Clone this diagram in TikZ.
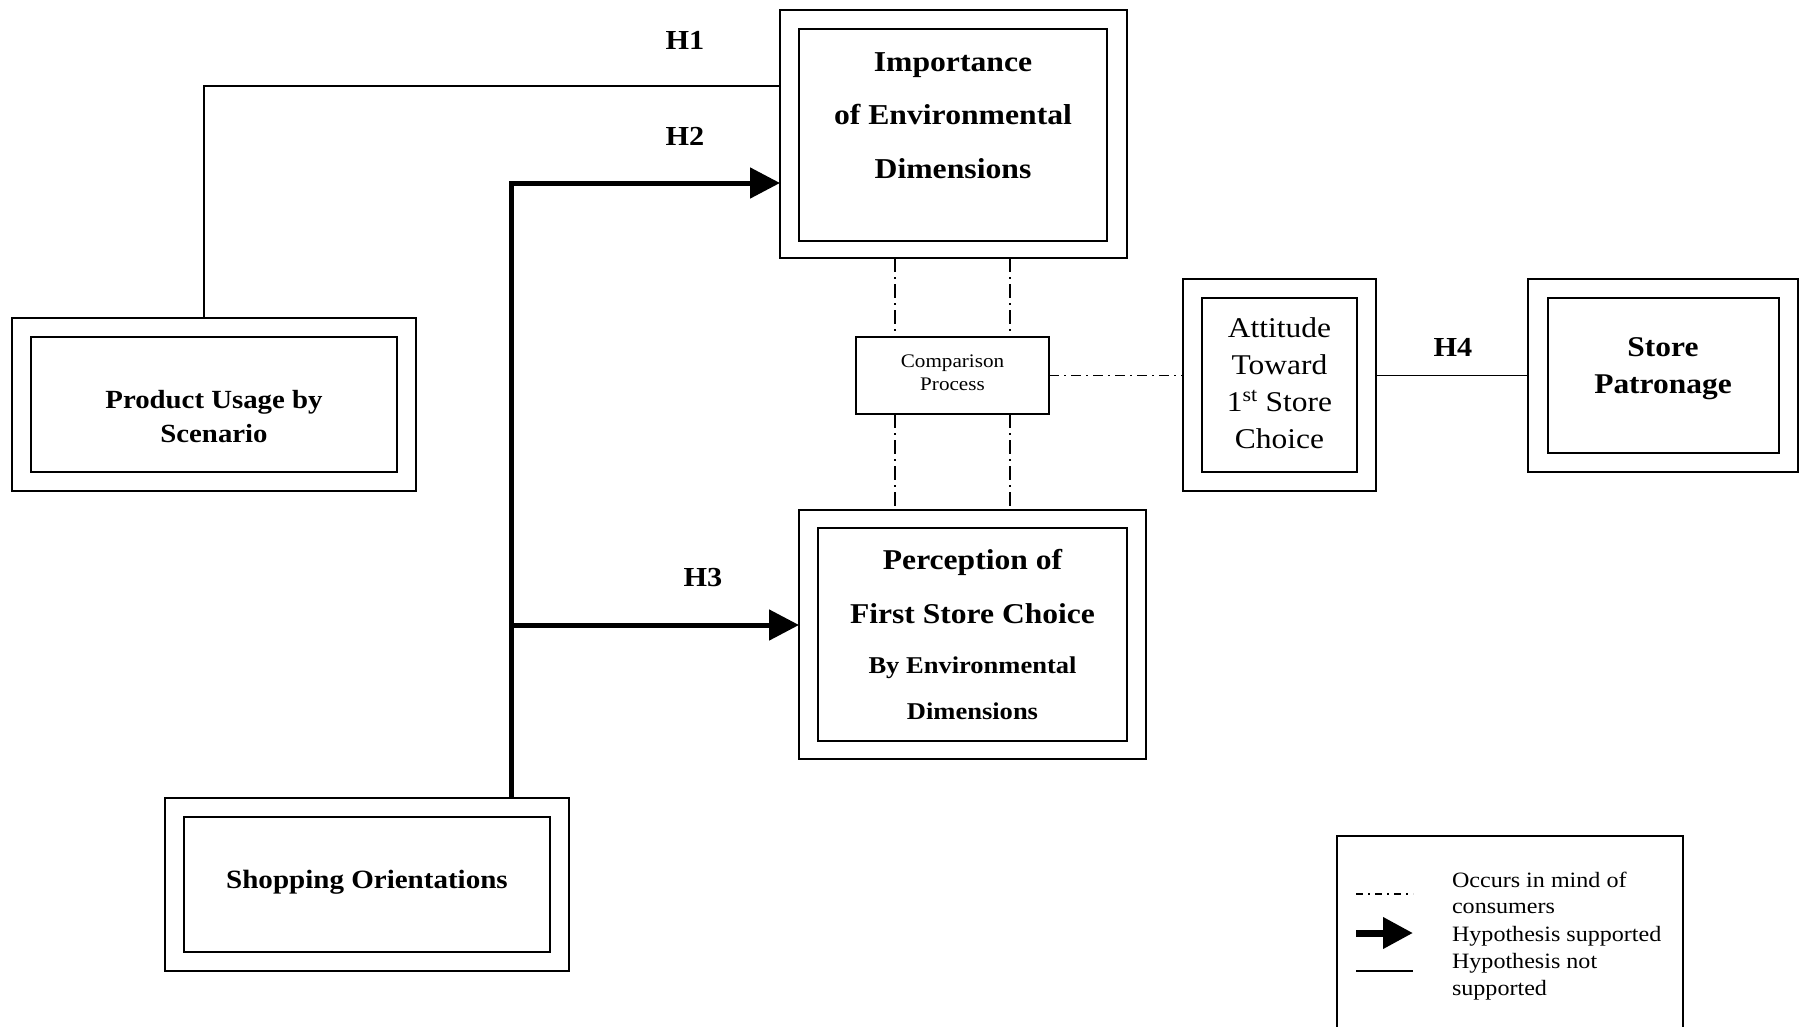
\documentclass[tikz,border=0pt]{standalone}
\usepackage{fontspec}
\setmainfont{Liberation Serif}[FakeStretch=1.1]
\usetikzlibrary{arrows.meta}
\newcommand\fsz[1]{\fontsize{#1pt}{#1pt}\selectfont}
\begin{document}
\begin{tikzpicture}[x=1pt,y=-1pt,
  bx/.style={draw, line width=1.6pt, inner sep=0pt, outer sep=0pt},
  txt/.style={anchor=base, inner sep=0pt, outer sep=0pt},
  ltxt/.style={anchor=base west, inner sep=0pt, outer sep=0pt, font=\fsz{21.9}},
  nsline/.style={line width=1.6pt},
  supp/.style={line width=5pt, -{Triangle[length=30pt,width=30pt]}},
  dd/.style={line width=1.4pt, dash pattern=on 14pt off 5pt on 2pt off 5pt},
  bigb/.style={font=\fsz{28.8}\bfseries},
  hlab/.style={txt, font=\fsz{27.5}\bfseries}]
\useasboundingbox (0,0) rectangle (1801,1026);
\fill[white] (0,0) rectangle (1801,1026);

% boxes
\node[bx, minimum width=347pt, minimum height=248pt] (imp) at (953.5,134) {};
\node[bx, minimum width=308pt, minimum height=212pt] (impi) at (953,135) {};
\node[bx, minimum width=347pt, minimum height=249pt] (perc) at (972.5,634.5) {};
\node[bx, minimum width=309pt, minimum height=213pt] (perci) at (972.5,634.5) {};
\node[bx, minimum width=404pt, minimum height=173pt] (prod) at (214,404.5) {};
\node[bx, minimum width=366pt, minimum height=135pt] (prodi) at (214,404.5) {};
\node[bx, minimum width=404pt, minimum height=173pt] (shop) at (367,884.5) {};
\node[bx, minimum width=366pt, minimum height=135pt] (shopi) at (367,884.5) {};
\node[bx, minimum width=193pt, minimum height=212pt] (att) at (1279.5,385) {};
\node[bx, minimum width=155pt, minimum height=174pt] (atti) at (1279.5,385) {};
\node[bx, minimum width=270pt, minimum height=193pt] (store) at (1663,375.5) {};
\node[bx, minimum width=231pt, minimum height=155pt] (storei) at (1663.5,375.5) {};
\node[bx, minimum width=193pt, minimum height=77pt] (comp) at (952.5,375.5) {};

% texts
\node[txt, bigb] (t1) at (953,71) {Importance};
\node[txt, bigb] (t2) at (953,124) {of Environmental};
\node[txt, bigb] (t3) at (953,178) {Dimensions};
\node[txt, font=\fsz{28.7}\bfseries] (p1) at (972.5,569) {Perception of};
\node[txt, font=\fsz{28.7}\bfseries] (p2) at (972.5,623) {First Store Choice};
\node[txt, font=\fsz{24.1}\bfseries] (p3) at (972.5,673) {By Environmental};
\node[txt, font=\fsz{24.1}\bfseries] (p4) at (972.5,719) {Dimensions};
\node[txt, font=\fsz{26.2}\bfseries] (u1) at (214,408) {Product Usage by};
\node[txt, font=\fsz{26.2}\bfseries] (u2) at (214,442) {Scenario};
\node[txt, font=\fsz{26.4}\bfseries] (s1) at (367,888) {Shopping Orientations};
\node[txt, font=\fsz{28.6}\bfseries] (r1) at (1663,356) {Store};
\node[txt, font=\fsz{28.6}\bfseries] (r2) at (1663,393) {Patronage};
\node[txt, font=\fsz{28.6}] (a1) at (1279.5,337) {Attitude};
\node[txt, font=\fsz{28.6}] (a2) at (1279.5,374) {Toward};
\node[txt, font=\fsz{28.6}] (a3) at (1279.5,411) {1\textsuperscript{st} Store};
\node[txt, font=\fsz{28.6}] (a4) at (1279.5,448) {Choice};
\node[txt, font=\fsz{19.2}] (c1) at (952.5,367) {Comparison};
\node[txt, font=\fsz{19.2}] (c2) at (952.5,390) {Process};

% hypothesis labels
\node[hlab] (h1) at (685,49) {H1};
\node[hlab] (h2) at (685,145) {H2};
\node[hlab] (h3) at (703,586) {H3};
\node[hlab] (h4) at (1453,356) {H4};

% connectors
\coordinate (h1c) at (204,86);
\coordinate (h2c) at (511,183);
\coordinate (h3c) at (511,625);
\coordinate (v1) at (895,0);
\coordinate (v2) at (1010,0);
\draw[nsline] (h1c |- prod.north) -- (h1c) -- (h1c -| imp.west);
\draw[supp] (h2c |- shop.north) -- (h2c) -- (h2c -| imp.west);
\draw[supp] (h3c) -- (h3c -| perc.west);
\draw[nsline] (att.east |- store.west) -- (store.west);
\draw[dd] (v1 |- imp.south) -- (v1 |- comp.north);
\draw[dd] (v2 |- imp.south) -- (v2 |- comp.north);
\draw[dd] (v1 |- comp.south) -- (v1 |- perc.north);
\draw[dd] (v2 |- comp.south) -- (v2 |- perc.north);
\draw[dd, dash pattern=on 10pt off 5pt on 2pt off 5pt] (comp.east) -- (comp.east -| att.west);

% legend
\draw[line width=1.6pt] (1337,1040) -- (1337,836) -- (1683,836) -- (1683,1040);
\coordinate (l1a) at (1356,894); \coordinate (l1b) at (1413,894);
\coordinate (l2a) at (1356,933); \coordinate (l2b) at (1413,933);
\coordinate (l3a) at (1356,971); \coordinate (l3b) at (1413,971);
\draw[line width=1.6pt, dash pattern=on 7pt off 5pt on 2pt off 5pt] (l1a) -- (l1b);
\draw[line width=7pt, -{Triangle[length=30pt,width=30pt]}] (l2a) -- (l2b);
\draw[nsline] (l3a) -- (l3b);
\node[ltxt] (g1) at (1452,887) {Occurs in mind of};
\node[ltxt] (g2) at (1452,913) {consumers};
\node[ltxt] (g3) at (1452,941) {Hypothesis supported};
\node[ltxt] (g4) at (1452,968) {Hypothesis not};
\node[ltxt] (g5) at (1452,995) {supported};
\end{tikzpicture}
\end{document}
